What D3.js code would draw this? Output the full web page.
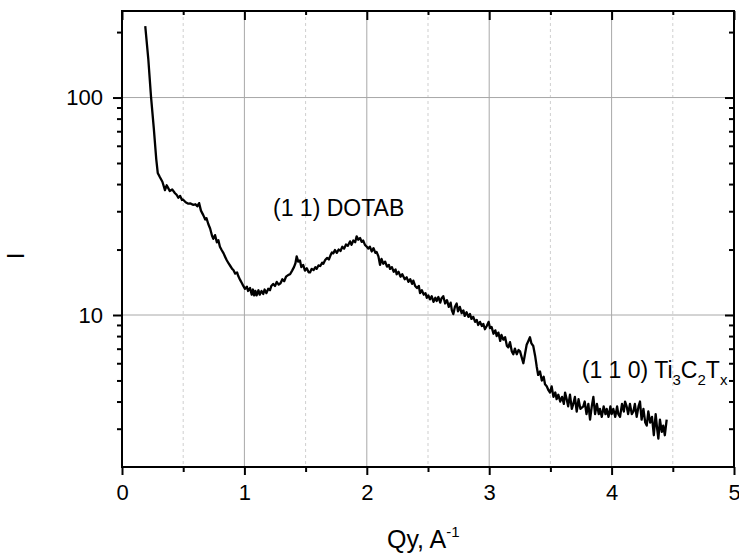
<!DOCTYPE html>
<html>
<head>
<meta charset="utf-8">
<script src="https://cdn.jsdelivr.net/npm/d3@7"></script>
<style>
  body { margin: 0; background: #fff; }
  text { font-family: "Liberation Sans", Arial, sans-serif; fill: #000; }
</style>
</head>
<body>
<div id="chart"></div>
<script>
// data: scattering vector Qy (A^-1) and intensity I
const qy = [
  0.19, 0.215, 0.237, 0.26, 0.28, 0.292, 0.31, 0.33, 0.351, 0.365, 0.378, 0.39, 0.41, 0.433, 0.445, 0.46, 0.475, 0.49, 0.50, 0.52,
  0.542, 0.56, 0.58, 0.60, 0.615, 0.63, 0.645, 0.664, 0.68, 0.69, 0.705, 0.72, 0.735, 0.746, 0.76, 0.775, 0.787, 0.80, 0.814, 0.83,
  0.845, 0.855, 0.87, 0.885, 0.90, 0.91, 0.925, 0.94, 0.95, 0.965, 0.98, 0.991, 1.005, 1.02, 1.03, 1.046, 1.06, 1.07, 1.08, 1.09,
  1.10, 1.115, 1.125, 1.14, 1.154, 1.165, 1.18, 1.195, 1.209, 1.22, 1.235, 1.25, 1.264, 1.28, 1.295, 1.31, 1.325, 1.34, 1.36, 1.373,
  1.39, 1.405, 1.417, 1.427, 1.44, 1.454, 1.465, 1.48, 1.495, 1.51, 1.525, 1.536, 1.55, 1.565, 1.58, 1.59, 1.605, 1.62, 1.635, 1.645,
  1.66, 1.675, 1.69, 1.705, 1.715, 1.726, 1.74, 1.755, 1.77, 1.785, 1.80, 1.815, 1.83, 1.845, 1.863, 1.875, 1.89, 1.905, 1.917, 1.93,
  1.945, 1.958, 1.97, 1.985, 2.00, 2.012, 2.025, 2.04, 2.055, 2.07, 2.08, 2.095, 2.108, 2.12, 2.135, 2.15, 2.165, 2.18, 2.19, 2.205,
  2.22, 2.235, 2.244, 2.26, 2.275, 2.29, 2.31, 2.326, 2.34, 2.355, 2.37, 2.38, 2.395, 2.41, 2.425, 2.435, 2.45, 2.465, 2.48, 2.49,
  2.503, 2.516, 2.53, 2.545, 2.56, 2.571, 2.585, 2.60, 2.61, 2.625, 2.64, 2.655, 2.67, 2.685, 2.695, 2.707, 2.72, 2.734, 2.745, 2.76,
  2.775, 2.789, 2.80, 2.815, 2.83, 2.843, 2.855, 2.87, 2.885, 2.898, 2.91, 2.925, 2.94, 2.952, 2.965, 2.98, 2.995, 3.007, 3.02, 3.035,
  3.05, 3.061, 3.075, 3.09, 3.10, 3.115, 3.13, 3.145, 3.156, 3.17, 3.185, 3.197, 3.21, 3.225, 3.24, 3.252, 3.265, 3.279, 3.29, 3.306,
  3.32, 3.333, 3.345, 3.36, 3.375, 3.388, 3.40, 3.415, 3.43, 3.445, 3.456, 3.47, 3.485, 3.497, 3.51, 3.525, 3.54, 3.551, 3.565, 3.58,
  3.595, 3.61, 3.62, 3.633, 3.645, 3.66, 3.675, 3.687, 3.70, 3.715, 3.73, 3.745, 3.769, 3.78, 3.795, 3.81, 3.824, 3.838, 3.851, 3.865,
  3.88, 3.895, 3.905, 3.92, 3.935, 3.95, 3.96, 3.975, 3.99, 4.00, 4.014, 4.03, 4.045, 4.055, 4.069, 4.085, 4.10, 4.11, 4.123, 4.135,
  4.15, 4.165, 4.178, 4.19, 4.205, 4.22, 4.232, 4.245, 4.26, 4.275, 4.287, 4.30, 4.315, 4.33, 4.345, 4.36, 4.372, 4.382, 4.395, 4.41,
  4.422, 4.435, 4.45
];
const intensity = [
  213, 150, 101, 72, 52, 45, 43, 41, 37.5, 39.5, 38.3, 37.2, 37.8, 36.3, 35.8, 34.6, 35.3, 33.8, 33.9, 33.0,
  32.5, 32.6, 32.1, 32.3, 31.6, 32.7, 30.2, 28.8, 27.5, 27.9, 26.2, 25.0, 23.2, 22.4, 23.3, 21.6, 22.1, 20.6, 19.9, 19.2,
  18.4, 17.9, 17.3, 16.8, 16.3, 16.1, 15.5, 15.7, 15.1, 14.5, 14.0, 13.6, 13.2, 13.5, 12.9, 13.3, 12.4, 13.1, 12.3, 12.9,
  12.3, 13.0, 12.4, 12.9, 12.5, 13.1, 12.6, 13.2, 13.0, 13.6, 13.9, 13.6, 14.2, 13.8, 14.0, 14.6, 14.3, 15.0, 15.3, 15.4,
  16.0, 16.6, 17.3, 18.6, 17.6, 17.8, 16.6, 17.0, 16.0, 16.4, 15.7, 15.7, 16.3, 16.1, 16.6, 16.3, 16.9, 16.8, 17.4, 17.2,
  17.9, 18.3, 18.0, 18.9, 19.4, 19.2, 19.9, 19.3, 20.0, 19.7, 20.6, 20.2, 21.1, 20.8, 21.8, 21.0, 22.0, 21.6, 23.0, 22.2,
  22.6, 21.7, 22.0, 21.0, 20.6, 20.2, 20.6, 19.6, 20.3, 19.3, 19.5, 18.6, 17.0, 18.1, 17.2, 17.6, 16.7, 17.0, 16.3, 16.6,
  15.8, 16.2, 15.4, 15.8, 15.0, 15.4, 14.6, 14.9, 14.2, 14.6, 13.9, 14.4, 13.6, 13.3, 13.6, 12.6, 13.0, 12.4, 12.6, 12.0,
  12.3, 11.8, 12.2, 11.5, 12.0, 11.6, 12.1, 11.4, 11.9, 12.2, 11.3, 11.7, 10.9, 11.4, 10.5, 10.1, 10.9, 11.3, 10.4, 10.9,
  10.2, 10.5, 9.9, 10.3, 9.8, 10.1, 9.6, 9.8, 9.3, 9.5, 9.0, 9.3, 8.9, 9.1, 8.6, 8.9, 9.3, 8.7, 8.8, 8.2,
  8.5, 8.0, 8.3, 7.6, 8.1, 7.7, 7.9, 7.2, 7.1, 7.5, 6.8, 6.6, 7.0, 6.6, 6.9, 6.8, 6.4, 6.0, 6.5, 7.3,
  7.6, 7.9, 7.4, 7.2, 6.5, 5.8, 5.3, 5.5, 5.0, 5.2, 4.8, 4.7, 4.5, 4.4, 4.7, 4.2, 4.4, 4.1, 4.3, 4.0,
  4.2, 3.9, 4.4, 4.1, 3.8, 4.3, 3.7, 3.9, 4.2, 3.6, 4.1, 3.7, 3.8, 4.0, 3.5, 3.9, 3.3, 3.8, 4.2, 3.5,
  3.9, 3.5, 3.7, 3.4, 3.8, 3.5, 3.7, 3.4, 3.8, 3.5, 3.7, 3.4, 3.8, 3.5, 3.4, 3.9, 3.6, 4.0, 3.8, 3.5,
  3.9, 3.5, 3.6, 3.9, 3.4, 3.8, 4.0, 3.3, 3.7, 3.2, 3.1, 3.6, 3.2, 3.4, 2.8, 3.5, 3.0, 2.7, 3.3, 2.9,
  3.1, 2.8, 3.3
];
const xTicks = [0, 1, 2, 3, 4, 5];
const xMinorTicks = [0.5, 1.5, 2.5, 3.5, 4.5];
const yTicks = [10, 100];
const yMinorTicks = [3, 4, 5, 6, 7, 8, 9, 20, 30, 40, 50, 60, 70, 80, 90, 200];

const W = 739, H = 554;
const margin = { top: 11, right: 5, bottom: 87, left: 122 };
const width = W - margin.left - margin.right,
      height = H - margin.top - margin.bottom;

const svg = d3.select("#chart")
    .append("svg")
    .attr("width", W)
    .attr("height", H)
    .append("g")
    .attr("transform", `translate(${margin.left}, ${margin.top})`);

const x = d3.scaleLinear().domain([0, 5]).range([0, width]);
const y = d3.scaleLog().domain([2, 250]).range([height, 0]);

// grid
svg.append("g")
    .selectAll("line")
    .data(xMinorTicks)
    .join("line")
    .attr("x1", d => x(d)).attr("x2", d => x(d))
    .attr("y1", 0).attr("y2", height)
    .attr("stroke", "#cfcfcf")
    .attr("stroke-dasharray", "3,3");

svg.append("g")
    .selectAll("line")
    .data(xTicks.slice(1, -1))
    .join("line")
    .attr("x1", d => x(d)).attr("x2", d => x(d))
    .attr("y1", 0).attr("y2", height)
    .attr("stroke", "#a8a8a8");

svg.append("g")
    .selectAll("line")
    .data(yTicks)
    .join("line")
    .attr("x1", 0).attr("x2", width)
    .attr("y1", d => y(d)).attr("y2", d => y(d))
    .attr("stroke", "#a8a8a8");

// axes
svg.append("g")
    .attr("transform", `translate(0, ${height})`)
    .call(d3.axisBottom(x).tickValues(xTicks).tickSize(8).tickPadding(9).tickFormat(d3.format("d")));
svg.append("g")
    .attr("transform", `translate(0, ${height})`)
    .call(d3.axisBottom(x).tickValues(xMinorTicks).tickSize(5).tickFormat(""));

svg.append("g")
    .call(d3.axisTop(x).tickValues(xTicks).tickSizeInner(-9).tickSizeOuter(0).tickFormat(""));
svg.append("g")
    .call(d3.axisTop(x).tickValues(xMinorTicks).tickSizeInner(-4).tickSizeOuter(0).tickFormat(""));

svg.append("g")
    .call(d3.axisLeft(y).tickValues(yTicks).tickSize(9).tickPadding(10).tickFormat(d3.format("d")));
svg.append("g")
    .call(d3.axisLeft(y).tickValues(yMinorTicks).tickSize(5).tickFormat(""));

svg.append("g")
    .attr("transform", `translate(${width}, 0)`)
    .call(d3.axisRight(y).tickValues(yTicks).tickSizeInner(-9).tickSizeOuter(0).tickFormat(""));
svg.append("g")
    .attr("transform", `translate(${width}, 0)`)
    .call(d3.axisRight(y).tickValues(yMinorTicks).tickSizeInner(-5).tickSizeOuter(0).tickFormat(""));

svg.selectAll(".domain").remove();
svg.selectAll(".tick line").attr("stroke", "#000").attr("stroke-width", 2);
svg.selectAll(".tick text").style("font-size", "22px");

// frame
svg.append("rect")
    .attr("width", width).attr("height", height)
    .attr("fill", "none")
    .attr("stroke", "#000")
    .attr("stroke-width", 2);

// curve
const line = d3.line()
    .x((d, i) => x(qy[i]))
    .y(d => y(d));

svg.append("path")
    .datum(intensity)
    .attr("fill", "none")
    .attr("stroke", "#000")
    .attr("stroke-width", 2.3)
    .attr("stroke-linejoin", "round")
    .attr("d", line);

// annotations
svg.append("text")
    .attr("x", x(1.234)).attr("y", y(28.4))
    .style("font-size", "23px")
    .text("(1 1) DOTAB");

const t2 = svg.append("text")
    .attr("x", x(3.756)).attr("y", y(5.12))
    .style("font-size", "23px");
t2.append("tspan").text("(1 1 0) Ti");
t2.append("tspan").attr("dy", 7).style("font-size", "15px").text("3");
t2.append("tspan").attr("dy", -7).text("C");
t2.append("tspan").attr("dy", 7).style("font-size", "15px").text("2");
t2.append("tspan").attr("dy", -7).text("T");
t2.append("tspan").attr("dy", 7).style("font-size", "15px").text("x");

// axis titles
const xt = svg.append("text")
    .attr("x", 387 - margin.left)
    .attr("y", height + 81)
    .style("font-size", "25px");
xt.append("tspan").text("Qy, A");
xt.append("tspan").attr("dy", -11).style("font-size", "15px").text("-1");

svg.append("text")
    .attr("transform", `translate(${-98}, ${height / 2 + 17}) rotate(-90)`)
    .attr("text-anchor", "middle")
    .style("font-size", "24px")
    .text("I");
</script>
</body>
</html>
